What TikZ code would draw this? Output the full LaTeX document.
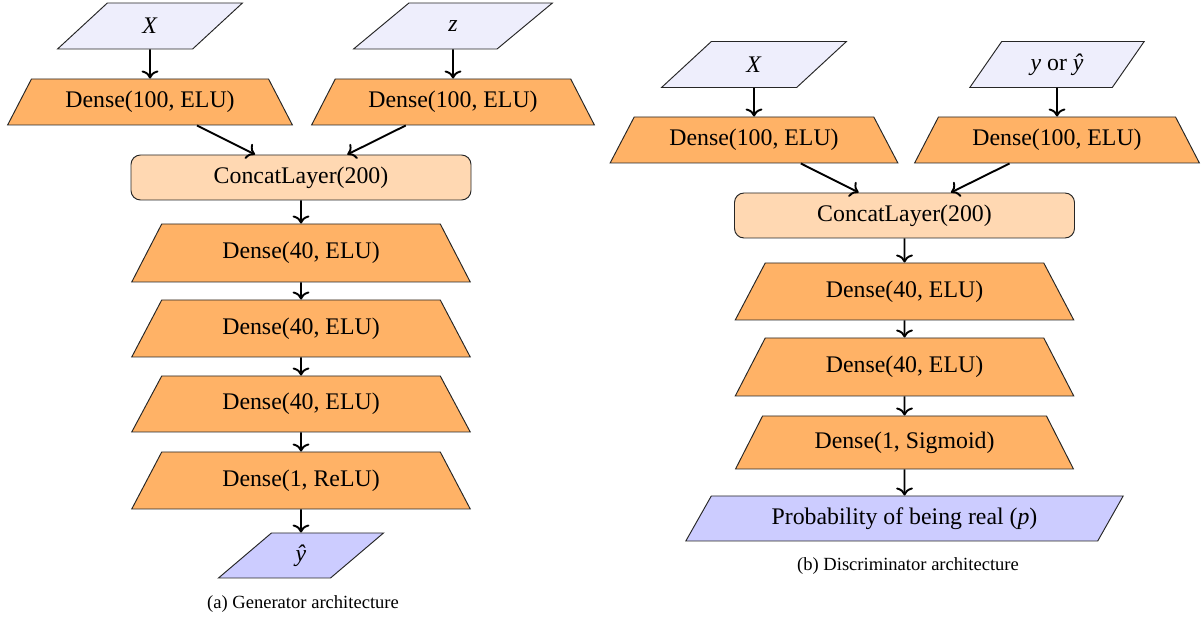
\documentclass[tikz,border=0pt]{standalone}
\usepackage{fontspec}
\setmainfont{Liberation Serif}
\usetikzlibrary{shapes.geometric,arrows.meta}
\definecolor{infill}{RGB}{238,238,252}
\definecolor{densefill}{RGB}{255,178,102}
\definecolor{concatfill}{RGB}{255,216,178}
\definecolor{outfill}{RGB}{204,204,255}
\def\pxu{0.42pt}
\tikzset{
  shp/.style={draw=black!85, line width=0.4pt, inner sep=2pt, font=\fontsize{10}{12}\selectfont},
  inbox/.style={shp, trapezium, trapezium left angle=60, trapezium right angle=120,
    trapezium stretches=true, fill=infill, minimum width=#1*\pxu, minimum height=46*\pxu},
  outbox/.style={shp, trapezium, trapezium left angle=60, trapezium right angle=120,
    trapezium stretches=true, fill=outfill, minimum width=#1*\pxu, minimum height=45*\pxu},
  dense/.style n args={2}{shp, trapezium, trapezium left angle=60, trapezium right angle=60,
    trapezium stretches=true, fill=densefill, minimum width=#1*\pxu, minimum height=#2*\pxu},
  concat/.style={shp, rectangle, rounded corners=4pt, fill=concatfill,
    minimum width=340*\pxu, minimum height=45*\pxu},
  conn/.style={->, line width=0.8pt},
  captext/.style={inner sep=0pt, font=\fontsize{7.8}{9}\selectfont},
}
\begin{document}
\begin{tikzpicture}[x=0.42pt, y=-0.42pt]
\useasboundingbox (0,0) rectangle (1203,621);
% Generator
\node[inbox=185] (gx) at (150,26) {\textit{X}};
\node[inbox=199] (gz) at (453,26) {\textit{z}};
\node[dense={287}{46}] (gd1) at (150,102) {Dense(100, ELU)};
\node[dense={285}{46}] (gd2) at (453,102) {Dense(100, ELU)};
\node[concat] (gc) at (301,177.5) {ConcatLayer(200)};
\node[dense={340}{58}] (gd3) at (301,253) {Dense(40, ELU)};
\node[dense={340}{57}] (gd4) at (301,328.5) {Dense(40, ELU)};
\node[dense={340}{56}] (gd5) at (301,404) {Dense(40, ELU)};
\node[dense={340}{57}] (gd6) at (301,480.5) {Dense(1, ReLU)};
\node[outbox=165] (gy) at (301,555.5) {\textit{ŷ}};
\node[captext] (ga) at (303,604) {(a) Generator architecture};
\draw[conn] (gx) -- (gd1);
\draw[conn] (gz) -- (gd2);
\draw[conn] (gd1) -- (gc);
\draw[conn] (gd2) -- (gc);
\draw[conn] (gc) -- (gd3);
\draw[conn] (gd3) -- (gd4);
\draw[conn] (gd4) -- (gd5);
\draw[conn] (gd5) -- (gd6);
\draw[conn] (gd6) -- (gy);
% Discriminator
\node[inbox=185] (dx) at (754,64.5) {\textit{X}};
\node[inbox=175] (dy) at (1057,64.5) {\textit{y} or \textit{ŷ}};
\node[dense={290}{46}] (dd1) at (754,140) {Dense(100, ELU)};
\node[dense={287}{46}] (dd2) at (1057,140) {Dense(100, ELU)};
\node[concat] (dc) at (904.5,215.5) {ConcatLayer(200)};
\node[dense={340}{57}] (dd3) at (904.5,291.5) {Dense(40, ELU)};
\node[dense={340}{58}] (dd4) at (904.5,367) {Dense(40, ELU)};
\node[dense={340}{53}] (dd5) at (904.5,442.5) {Dense(1, Sigmoid)};
\node[outbox=438] (dp) at (904.5,518.5) {Probability of being real (\textit{p})};
\node[captext] (db) at (908,566) {(b) Discriminator architecture};
\draw[conn] (dx) -- (dd1);
\draw[conn] (dy) -- (dd2);
\draw[conn] (dd1) -- (dc);
\draw[conn] (dd2) -- (dc);
\draw[conn] (dc) -- (dd3);
\draw[conn] (dd3) -- (dd4);
\draw[conn] (dd4) -- (dd5);
\draw[conn] (dd5) -- (dp);
\end{tikzpicture}
\end{document}
